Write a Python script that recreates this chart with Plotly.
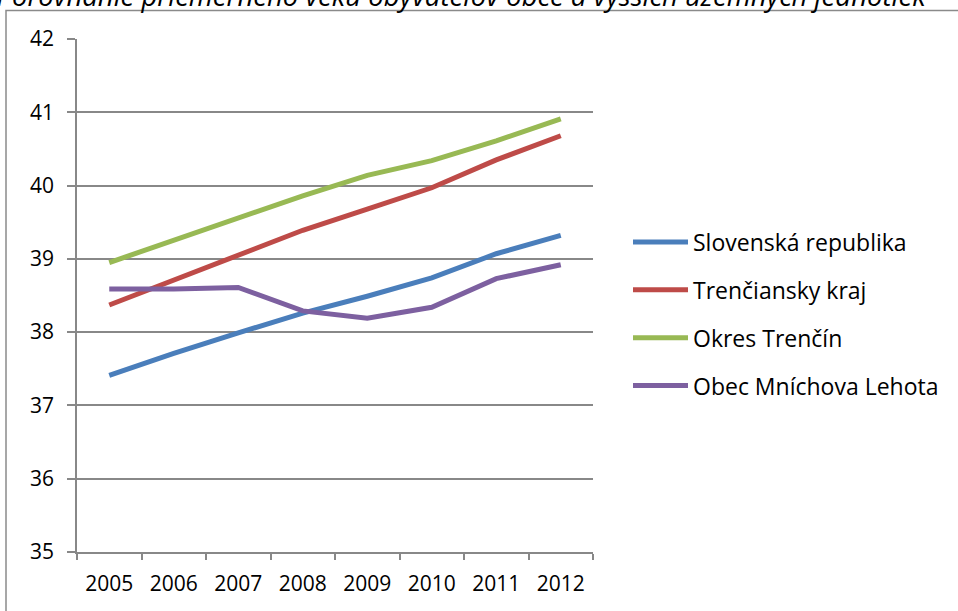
import plotly.graph_objects as go

years = ["2005", "2006", "2007", "2008", "2009", "2010", "2011", "2012"]
slovenska = [37.41, 37.71, 37.99, 38.26, 38.49, 38.74, 39.07, 39.32]
trenciansky = [38.37, 38.71, 39.05, 39.39, 39.68, 39.97, 40.35, 40.68]
okres = [38.95, 39.25, 39.56, 39.86, 40.14, 40.34, 40.61, 40.91]
obec = [38.59, 38.59, 38.61, 38.29, 38.19, 38.34, 38.73, 38.92]

series = [
    ("Slovenská republika", slovenska, "#4A7EBB"),
    ("Trenčiansky kraj", trenciansky, "#BE4B48"),
    ("Okres Trenčín", okres, "#98B954"),
    ("Obec Mníchova Lehota", obec, "#7D60A0"),
]

FONT = "Open Sans"
GRID = "#888888"

W, H = 958, 611
L, T, PW, PH = 77, 38.5, 516, 514

fig = go.Figure()
for name, vals, col in series:
    fig.add_trace(go.Scatter(
        x=years, y=vals, name=name, mode="lines",
        line=dict(color=col, width=5),
        legendgroup=name,
    ))

fig.update_layout(
    width=W, height=H,
    margin=dict(l=L, r=W - L - PW, t=T, b=H - T - PH, pad=0),
    paper_bgcolor="white", plot_bgcolor="white",
    font=dict(family=FONT, size=21, color="black"),
    showlegend=True,
    title=dict(
        text="<i>Porovnanie priemerného veku obyvateľov obce a vyšších územných jednotiek</i>",
        font=dict(family=FONT, size=27.5, color="black"),
        x=461 / W, xref="container", xanchor="center",
        y=1 - 6 / H, yref="container", yanchor="bottom",
    ),
    legend=dict(
        x=(628 - L) / PW, xanchor="left", y=(T + PH - 314) / PH, yanchor="middle",
        font=dict(family=FONT, size=23, color="black"),
        tracegroupgap=15, itemwidth=55,
        bgcolor="rgba(0,0,0,0)",
    ),
    xaxis=dict(
        type="category", range=[-0.5, 7.5],
        showgrid=False, showline=True, linecolor=GRID, linewidth=1.5,
        ticks="outside", tickson="boundaries", ticklen=6, tickcolor=GRID, tickwidth=1.5,
        tickfont=dict(family=FONT, size=21), ticklabelstandoff=12,
    ),
    yaxis=dict(
        range=[35, 42], dtick=1, tick0=35,
        showgrid=True, gridcolor=GRID, gridwidth=1.5,
        showline=True, linecolor=GRID, linewidth=1.5,
        ticks="outside", ticklen=8, tickcolor=GRID, tickwidth=1.5,
        tickfont=dict(family=FONT, size=21), ticklabelstandoff=9,
        zeroline=False,
    ),
    shapes=[dict(
        type="rect", xref="paper", yref="paper",
        x0=(6 - L) / PW, x1=(1100 - L) / PW,
        y0=(T + PH - 700) / PH, y1=(T + PH - 10) / PH,
        line=dict(color="#8A8A8A", width=1.5), fillcolor="rgba(0,0,0,0)",
        layer="above",
    )],
)

fig.write_html(
    "out.html",
    config={"displayModeBar": False},
    post_script="document.body.style.margin='0';"
                "document.body.style.overflow='hidden';"
                "document.documentElement.style.overflow='hidden';",
)
